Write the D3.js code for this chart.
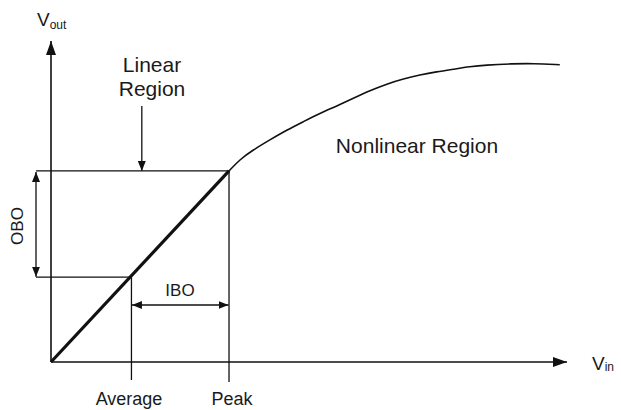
<!DOCTYPE html>
<html><head><meta charset="utf-8">
<script src="https://cdn.jsdelivr.net/npm/d3@7"></script>
<style>body{margin:0;background:#fff}text{font-family:"Liberation Sans",Arial,sans-serif;fill:#1a1a1a}</style>
</head><body>
<script>
// Data (arbitrary units: Vin 0..100, Vout 0..100)
const peak = {vin: 34.5, vout: 59.7};
const average = {vin: 15.3, vout: 26.5};
const linearVin = [0, 34.5];
const linearVout = [0, 59.7];
const curveVin = [34.5, 36.6, 39.2, 42.4, 45.7, 48.9, 52.1, 55.4, 58.6, 61.8, 65.1, 68.3, 71.5, 74.7, 78.0, 81.2, 84.1, 89.5, 93.4, 98.6];
const curveVout = [59.7, 63.3, 66.3, 69.4, 72.5, 75.1, 77.7, 80.0, 82.4, 84.8, 86.9, 88.5, 89.7, 90.7, 91.5, 92.3, 92.8, 93.2, 93.3, 92.9];
const labels = {vout: "V", voutSub: "out", vin: "V", vinSub: "in", linear: ["Linear", "Region"],
  nonlinear: "Nonlinear Region", obo: "OBO", ibo: "IBO", avg: "Average", peak: "Peak"};

const W = 621, H = 410;
const x = d3.scaleLinear().domain([0, 100]).range([51, 567]);
const y = d3.scaleLinear().domain([0, 100]).range([362, 42]);

const svg = d3.select("body").append("svg").attr("width", W).attr("height", H);
const defs = svg.append("defs");
defs.append("marker").attr("id", "arr").attr("viewBox", "0 0 10 8").attr("refX", 10).attr("refY", 4)
  .attr("markerWidth", 10).attr("markerHeight", 8).attr("markerUnits", "userSpaceOnUse")
  .attr("orient", "auto-start-reverse")
  .append("path").attr("d", "M0,0 L10,4 L0,8 Z").attr("fill", "#111");
defs.append("marker").attr("id", "big").attr("viewBox", "0 0 14 10").attr("refX", 14).attr("refY", 5)
  .attr("markerWidth", 14).attr("markerHeight", 10).attr("markerUnits", "userSpaceOnUse")
  .attr("orient", "auto").append("path").attr("d", "M0,0 L14,5 L0,10 Z").attr("fill", "#111");

const g = svg.append("g");
const ln = (x1, y1, x2, y2, w, m1, m2) => {
  const l = g.append("line").attr("x1", x1).attr("y1", y1).attr("x2", x2).attr("y2", y2)
    .attr("stroke", "#111").attr("stroke-width", w);
  if (m1) l.attr("marker-start", `url(#${m1})`);
  if (m2) l.attr("marker-end", `url(#${m2})`);
  return l;
};

// Axes
ln(x(0), y(0), x(0), y(100.3), 1.6, null, "big");
ln(x(0), y(0), x(100), y(0), 1.6, null, "big");

// Guide lines
const oboX = x(0) - 15;
ln(oboX, y(peak.vout), x(peak.vin), y(peak.vout), 1.3);
ln(oboX, y(average.vout), x(average.vin), y(average.vout), 1.3);
ln(x(average.vin) + 1.5, y(average.vout), x(average.vin) + 1.5, y(0) + 18, 1.3);
ln(x(peak.vin), y(peak.vout), x(peak.vin), y(0) + 20, 1.3);

// OBO double arrow
ln(oboX, y(peak.vout) + 1, oboX, y(average.vout) - 0.5, 1.3, "arr", "arr");
// IBO double arrow
const iboY = y(0) - 57;
ln(x(average.vin) + 2, iboY, x(peak.vin) - 0.5, iboY, 1.3, "arr", "arr");
// Linear Region arrow
ln(x(17.6), 106, x(17.6), y(peak.vout), 1.3, null, "arr");

// Linear characteristic
const line = d3.line().x(d => x(d[0])).y(d => y(d[1]));
g.append("path").datum(linearVin.map((v, i) => [v, linearVout[i]]))
  .attr("d", line).attr("stroke", "#111").attr("stroke-width", 3.2).attr("fill", "none");
// Nonlinear curve
g.append("path").datum(curveVin.map((v, i) => [v, curveVout[i]]))
  .attr("d", line.curve(d3.curveBasis)).attr("stroke", "#111").attr("stroke-width", 1.6).attr("fill", "none");

// Text
const t = (s, tx, ty, size, anchor = "middle") => svg.append("text").attr("x", tx).attr("y", ty)
  .attr("font-size", size).attr("text-anchor", anchor).text(s);
const vo = svg.append("text").attr("x", 37).attr("y", 26).attr("font-size", 19);
vo.append("tspan").text(labels.vout);
vo.append("tspan").attr("font-size", 12).attr("dy", 3).text(labels.voutSub);
const vi = svg.append("text").attr("x", 592).attr("y", 370).attr("font-size", 19);
vi.append("tspan").text(labels.vin);
vi.append("tspan").attr("font-size", 12).attr("dy", 1).text(labels.vinSub);

t(labels.linear[0], 152, 72, 21);
t(labels.linear[1], 152, 96, 21);
t(labels.nonlinear, 417, 153, 21);
t(labels.ibo, 180, 296, 17);
t(labels.avg, 129, 405, 18);
t(labels.peak, 232, 405, 18);
svg.append("text").attr("transform", `translate(23,226) rotate(-90)`).attr("font-size", 17)
  .attr("text-anchor", "middle").text(labels.obo);
</script>
</body></html>
